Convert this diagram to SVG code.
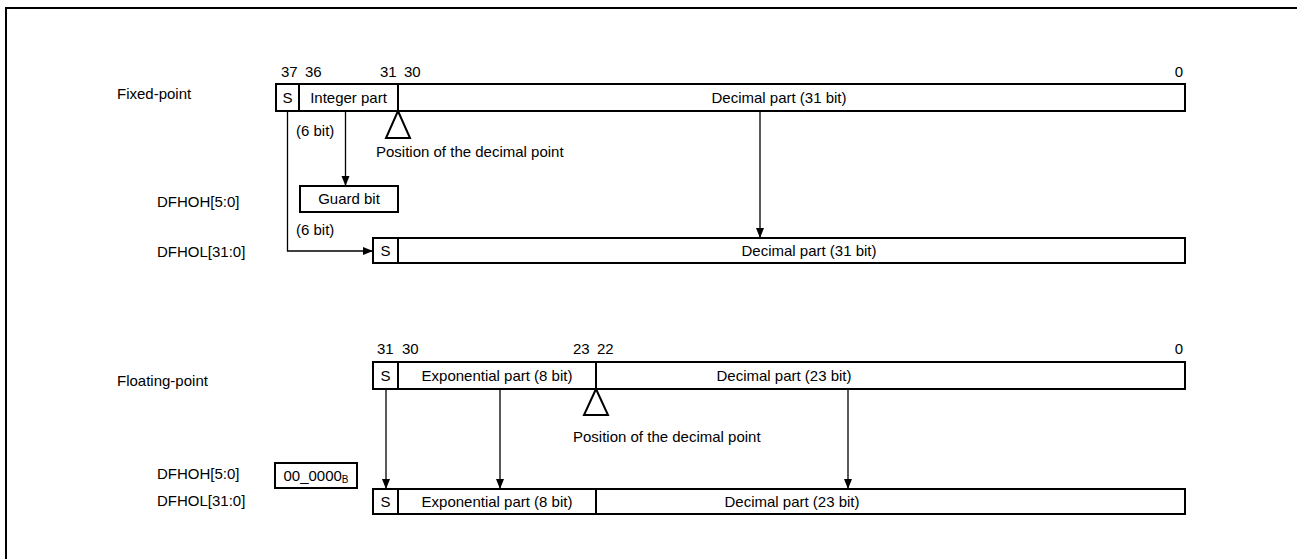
<svg xmlns="http://www.w3.org/2000/svg" width="1297" height="559" viewBox="0 0 1297 559">
<defs>
<style>
text{font-family:"Liberation Sans",Arial,sans-serif;font-size:15px;fill:#000}
.m{text-anchor:middle}
.e{text-anchor:end}
.box{fill:#fff;stroke:#000;stroke-width:2}
.div{stroke:#000;stroke-width:2}
.ln{fill:none;stroke:#000;stroke-width:1.3}
.tri{fill:#fff;stroke:#000;stroke-width:2;stroke-linejoin:miter}
</style>
<marker id="ah" viewBox="0 0 10 10" refX="10" refY="5" markerWidth="10" markerHeight="10" markerUnits="userSpaceOnUse" orient="auto">
<path d="M0,1 L10,5 L0,9 Z" fill="#000"/>
</marker>
</defs>
<rect width="1297" height="559" fill="#fff"/>
<path d="M6,559 V8 H1297" fill="none" stroke="#000" stroke-width="2"/>

<g id="labels">
<text x="117" y="99">Fixed-point</text>
<text x="157" y="207">DFHOH[5:0]</text>
<text x="157" y="257">DFHOL[31:0]</text>
<text x="117" y="386">Floating-point</text>
<text x="157" y="479">DFHOH[5:0]</text>
<text x="157" y="506">DFHOL[31:0]</text>
</g>

<g id="fixed-reg">
<text x="281" y="77">37</text>
<text x="305" y="77">36</text>
<text x="380" y="77">31</text>
<text x="404" y="77">30</text>
<text x="1183" y="77" class="e">0</text>
<rect class="box" x="276" y="84" width="909" height="27"/>
<line class="div" x1="299" y1="84" x2="299" y2="111"/>
<line class="div" x1="398" y1="84" x2="398" y2="111"/>
<text x="287.5" y="103" class="m">S</text>
<text x="348.5" y="103" class="m">Integer part</text>
<text x="779" y="103" class="m">Decimal part (31 bit)</text>
<text x="296" y="136">(6 bit)</text>
</g>

<g id="fixed-point-marker">
<path class="tri" d="M398,111 L410,138 L386,138 Z"/>
<text x="376" y="157">Position of the decimal point</text>
</g>

<g id="guard-bit">
<rect class="box" x="300" y="186" width="98" height="26"/>
<text x="349" y="204" class="m">Guard bit</text>
<text x="296" y="235">(6 bit)</text>
</g>

<g id="fixed-dfhol">
<rect class="box" x="373" y="238" width="812" height="25"/>
<line class="div" x1="398" y1="238" x2="398" y2="263"/>
<text x="385.5" y="256" class="m">S</text>
<text x="809" y="256" class="m">Decimal part (31 bit)</text>
</g>

<g id="float-reg">
<text x="377" y="354">31</text>
<text x="402" y="354">30</text>
<text x="573" y="354">23</text>
<text x="597" y="354">22</text>
<text x="1183" y="354" class="e">0</text>
<rect class="box" x="373" y="362" width="812" height="27"/>
<line class="div" x1="398" y1="362" x2="398" y2="389"/>
<line class="div" x1="596" y1="362" x2="596" y2="389"/>
<text x="385.5" y="381" class="m">S</text>
<text x="497" y="381" class="m">Exponential part (8 bit)</text>
<text x="784" y="381" class="m">Decimal part (23 bit)</text>
</g>

<g id="float-point-marker">
<path class="tri" d="M596,389 L608,415 L584,415 Z"/>
<text x="573" y="442">Position of the decimal point</text>
</g>

<g id="float-dfhoh">
<rect class="box" x="275" y="463" width="82" height="25"/>
<text x="316" y="481" class="m">00_0000<tspan font-size="10" dy="2">B</tspan></text>
</g>

<g id="float-dfhol">
<rect class="box" x="373" y="489" width="812" height="25"/>
<line class="div" x1="398" y1="489" x2="398" y2="514"/>
<line class="div" x1="596" y1="489" x2="596" y2="514"/>
<text x="385.5" y="507" class="m">S</text>
<text x="497" y="507" class="m">Exponential part (8 bit)</text>
<text x="792" y="507" class="m">Decimal part (23 bit)</text>
</g>

<g id="connectors">
<path class="ln" d="M287.5,111 V251 H373" marker-end="url(#ah)"/>
<path class="ln" d="M345.5,111 V186" marker-end="url(#ah)"/>
<path class="ln" d="M760,111 V238" marker-end="url(#ah)"/>
<path class="ln" d="M386,389 V489" marker-end="url(#ah)"/>
<path class="ln" d="M500,389 V489" marker-end="url(#ah)"/>
<path class="ln" d="M848,389 V489" marker-end="url(#ah)"/>
</g>
</svg>
